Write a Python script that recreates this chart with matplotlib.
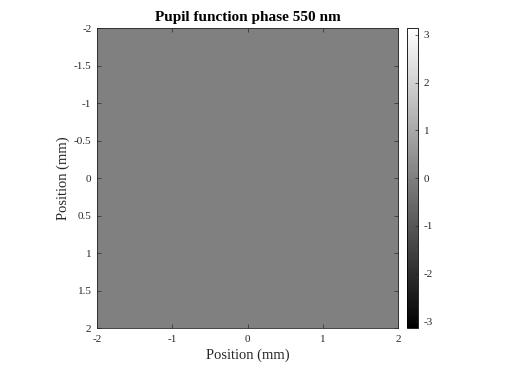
import numpy as np
import matplotlib
matplotlib.use('Agg')
import matplotlib.pyplot as plt

# pupil phase map (radians) - flat, all zero
extent_mm = [-2, 2]
phase = np.zeros((64, 64))
ticks = [-2, -1, 0, 1, 2]
yticks = [-2, -1.5, -1, -0.5, 0, 0.5, 1, 1.5, 2]
ytick_labels = ['-2', '-1.5', '-1', '-0.5', '0', '0.5', '1', '1.5', '2']
cbar_ticks = [-3, -2, -1, 0, 1, 2, 3]

plt.rcParams['font.family'] = ['Liberation Serif', 'DejaVu Serif']
plt.rcParams['axes.unicode_minus'] = False

fig = plt.figure(figsize=(5.12, 3.69), dpi=100)
ax = fig.add_axes([0.1895, 0.111, 0.588, 0.813])
cax = fig.add_axes([0.795, 0.111, 0.0215, 0.813])

im = ax.imshow(phase, cmap='gray', vmin=-np.pi, vmax=np.pi,
               extent=[extent_mm[0], extent_mm[1], extent_mm[1], extent_mm[0]],
               aspect='auto', interpolation='nearest')
ax.set_xlim(extent_mm)
ax.set_ylim(extent_mm[1], extent_mm[0])
ax.set_xticks(ticks)
ax.set_xticklabels([str(t) for t in ticks])
ax.set_yticks(yticks)
ax.set_yticklabels(ytick_labels)
ax.tick_params(direction='in', length=3, width=0.5, labelsize=8,
               top=True, right=True, colors='#262626')
ax.tick_params(axis='x', pad=5)
ax.tick_params(axis='y', pad=4)
for s in ax.spines.values():
    s.set_linewidth(0.6)
    s.set_color('#262626')
ax.set_xlabel('Position (mm)', fontsize=10.5, color='#262626', labelpad=3)
ax.set_ylabel('Position (mm)', fontsize=10.5, color='#262626', labelpad=3)
ax.set_title('Pupil function phase 550 nm', fontsize=11, fontweight='bold', pad=5)

cb = fig.colorbar(im, cax=cax, ticks=cbar_ticks)
cb.ax.tick_params(direction='in', length=2, width=0.5, labelsize=8,
                  colors='#262626', pad=4)
cb.outline.set_linewidth(0.6)

fig.savefig('out.png', dpi=100)
